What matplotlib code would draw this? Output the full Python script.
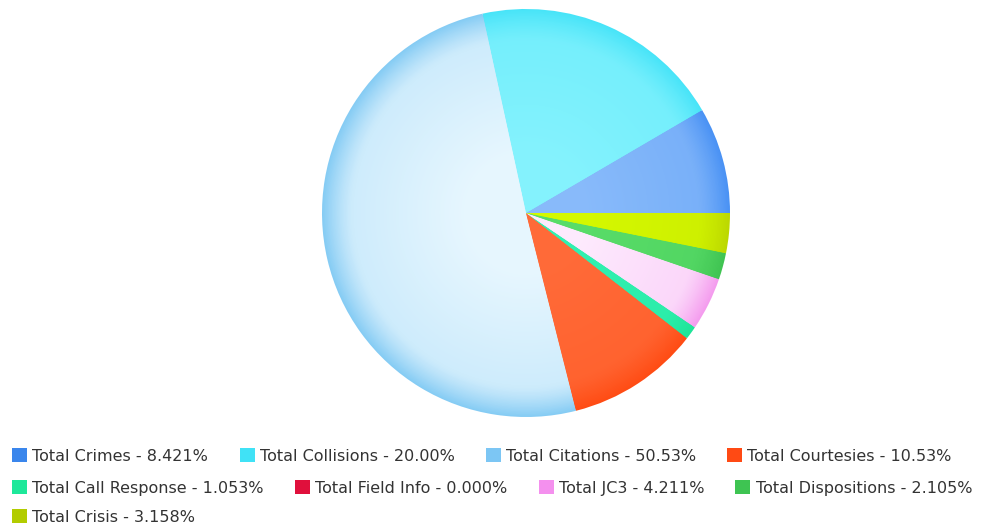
import numpy as np
import matplotlib
matplotlib.use("Agg")
import matplotlib.pyplot as plt
from matplotlib.patches import Patch
from matplotlib.colors import to_rgb

labels = ["Total Crimes", "Total Collisions", "Total Citations", "Total Courtesies",
          "Total Call Response", "Total Field Info", "Total JC3", "Total Dispositions",
          "Total Crisis"]
percents = [8.421, 20.00, 50.53, 10.53, 1.053, 0.000, 4.211, 2.105, 3.158]
pct_text = ["8.421%", "20.00%", "50.53%", "10.53%", "1.053%", "0.000%", "4.211%", "2.105%", "3.158%"]

rim_colors = ["#4a92f4", "#48e4f8", "#86ccf4", "#ff4c14", "#1ee498", "#e8103c",
              "#f49cee", "#40c452", "#bcd800"]
inner_colors = ["#88bafa", "#84f2fd", "#e6f6fe", "#ff6a38", "#30f0b0", "#e8103c",
                "#fdeafd", "#58dc68", "#d4f800"]
legend_colors = ["#3a86ec", "#40e2f6", "#7cc6f4", "#ff4a14", "#1ee89a", "#e0103c",
                 "#f490ee", "#3ec452", "#b2cc00"]

W, H = 993, 527
fig = plt.figure(figsize=(W / 100, H / 100), dpi=100)

cx, cy, R = 526, 527 - 213, 204
ax = fig.add_axes([(cx - R) / W, (cy - R) / H, 2 * R / W, 2 * R / H])

vals = np.array(percents)
nz = vals > 0
inner = np.array([to_rgb(c) for c in inner_colors])
rim = np.array([to_rgb(c) for c in rim_colors])

# radial gradient: stack of shrinking pies, darker band near the rim
n_rings = 150
for k in range(n_rings):
    t = 1 - k / n_rings
    s = 0.25 * np.clip((t - 0.3) / 0.55, 0, 1) + 0.75 * np.clip((t - 0.85) / 0.15, 0, 1) ** 1.3
    cols = inner + (rim - inner) * s
    ax.pie(vals[nz], colors=[tuple(c) for c in cols[nz]], startangle=0,
           counterclock=True, radius=t, wedgeprops=dict(linewidth=0))

ax.set_xlim(-1, 1)
ax.set_ylim(-1, 1)
ax.set_aspect("equal")
ax.axis("off")

# legend, flowed in three rows
rows = [[0, 1, 2, 3], [4, 5, 6, 7], [8]]
row_y = [456, 488, 517]
fs = 11.5
for r, idx in enumerate(rows):
    handles = [Patch(facecolor=legend_colors[i], edgecolor="none") for i in idx]
    texts = [f"{labels[i]} - {pct_text[i]}" for i in idx]
    fig.legend(handles, texts, loc="center left", ncol=len(idx),
               bbox_to_anchor=(-2 / W, 1 - row_y[r] / H), frameon=False,
               fontsize=fs, handlelength=0.94, handleheight=0.94,
               handletextpad=0.32, columnspacing=1.95, labelcolor="#333333")

fig.savefig("out.png", dpi=100)
